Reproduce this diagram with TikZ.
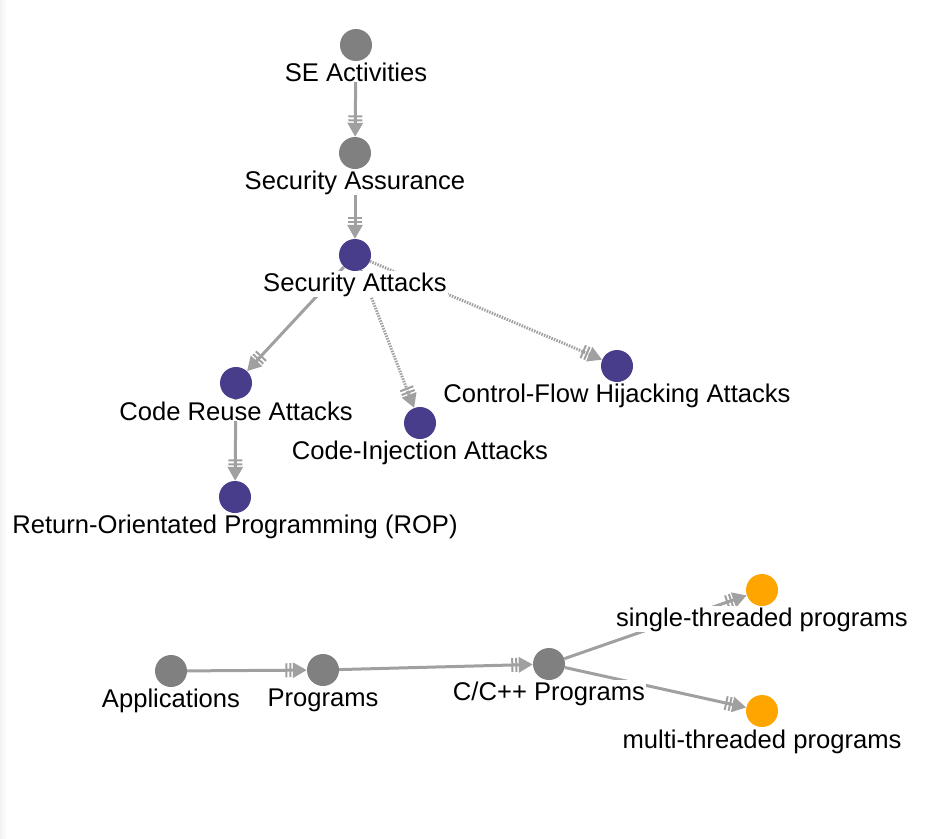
\documentclass[tikz,border=0pt]{standalone}
\usepackage{fontspec}
\setmainfont{Liberation Sans}
\usetikzlibrary{arrows.meta}
\definecolor{edgegray}{RGB}{160,160,160}
\definecolor{ngray}{RGB}{128,128,128}
\definecolor{npurple}{RGB}{72,61,139}
\definecolor{norange}{RGB}{255,165,0}
\begin{document}
\begin{tikzpicture}[x=1pt,y=-1pt,
  dot/.style={circle,minimum size=32pt,inner sep=0pt,draw=none},
  lbl/.style={fill=white,inner sep=1pt,font=\fontsize{25.6}{30}\selectfont,anchor=base},
  link/.style={draw=edgegray,line width=3pt,
    -{Bar[width=14pt,line width=2pt,sep=2pt]Bar[width=14pt,line width=2pt,sep=1.5pt]Triangle[length=14pt,width=15pt]}},
  dlink/.style={link,dash pattern=on 1.5pt off 1.2pt}]
\useasboundingbox (0,0) rectangle (933,838);
\fill[left color=gray!10,right color=white] (0,0) rectangle (7,838);
% nodes
\node[dot,fill=ngray]   (se)  at (356,45)  {};
\node[dot,fill=ngray]   (sa)  at (355,153) {};
\node[dot,fill=npurple] (sat) at (355,255) {};
\node[dot,fill=npurple] (cra) at (236,383) {};
\node[dot,fill=npurple] (cia) at (420,423) {};
\node[dot,fill=npurple] (cfh) at (617,366) {};
\node[dot,fill=npurple] (rop) at (235,497) {};
\node[dot,fill=ngray]   (app) at (171,671) {};
\node[dot,fill=ngray]   (prg) at (323,670) {};
\node[dot,fill=ngray]   (cpp) at (549,664) {};
\node[dot,fill=norange] (st)  at (762,590) {};
\node[dot,fill=norange] (mt)  at (762,711) {};
% edges
\draw[link]  (se)  -- (sa);
\draw[link]  (sa)  -- (sat);
\draw[link]  (sat) -- (cra);
\draw[dlink] (sat) -- (cia);
\draw[dlink] (sat) -- (cfh);
\draw[link]  (cra) -- (rop);
\draw[link]  (app) -- (prg);
\draw[link]  (prg) -- (cpp);
\draw[link]  (cpp) -- (st);
\draw[link]  (cpp) -- (mt);
% labels
\node[lbl] (sel)   at (356,81)  {SE Activities};
\node[lbl] (sal)   at (355,189) {Security Assurance};
\node[lbl] (satl)  at (355,291) {Security Attacks};
\node[lbl] (cral)  at (236,420) {Code Reuse Attacks};
\node[lbl] (cial)  at (420,459) {Code-Injection Attacks};
\node[lbl] (cfhl)  at (617,402) {Control-Flow Hijacking Attacks};
\node[lbl] (ropl)  at (235,533) {Return-Orientated Programming (ROP)};
\node[lbl] (appl)  at (171,707) {Applications};
\node[lbl] (prgl)  at (323,706) {Programs};
\node[lbl] (cppl)  at (549,700) {C/C++ Programs};
\node[lbl] (stl)   at (762,626) {single-threaded programs};
\node[lbl] (mtl)   at (762,748) {multi-threaded programs};
\end{tikzpicture}
\end{document}
